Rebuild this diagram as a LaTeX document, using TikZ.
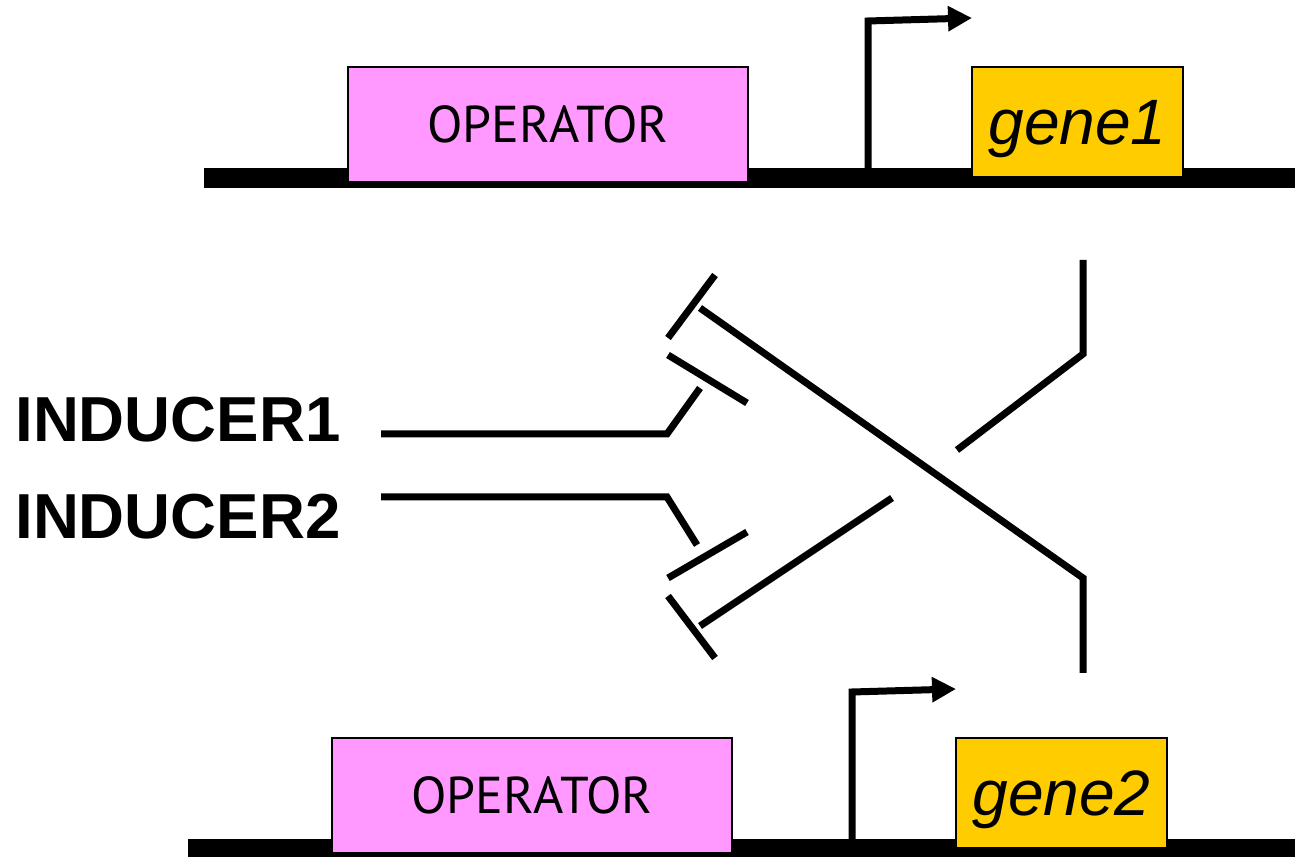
\documentclass[tikz,border=0pt]{standalone}
\usepackage{fontspec}
\setmainfont{Liberation Sans}
\newfontfamily\opfont{PT Sans}
\usetikzlibrary{arrows.meta}
\definecolor{oppink}{HTML}{FF99FF}
\definecolor{geneyellow}{HTML}{FFCC00}

\begin{document}
\begin{tikzpicture}[x=0.02cm,y=-0.02cm,>=latex,
	opbox/.style={
		draw, line width=0.85pt, fill=oppink,
		minimum width=8cm, minimum height=2.3cm,
		font=\opfont\fontsize{29.5}{31}\selectfont,
	},
	genebox/.style={
		draw, line width=0.85pt, fill=geneyellow,
		minimum width=4.22cm, minimum height=2.2cm, text depth=0pt,
		font=\itshape\fontsize{36.5}{38}\selectfont,
	},
	prom/.style={line width=0.14cm, -{Triangle[length=0.48cm,width=0.48cm]}},
	rep/.style={line width=0.14cm},
	ind/.style={anchor=base west, inner sep=0pt, font=\bfseries\fontsize{36.2}{40}\selectfont},
]
	\useasboundingbox (0,0) rectangle (1295,857);

	% the two promoter rows
	\foreach \n/\dx/\dy in {1/0/0, 2/-16/671}{
		\begin{scope}[shift={(\dx,\dy)}]
			\fill (204,168) rectangle (1320,188);
			\node[opbox] (op\n) at (548,124.5) {OPERATOR};
			\node[genebox] (gene\n) at (1077.5,122) {gene\n};
			\coordinate (p\n) at (868,172);
			\coordinate (pt\n) at (868,21);
			\coordinate (pa\n) at (972,18);
			\draw[prom] (p\n) -- (pt\n) -- (pa\n);
		\end{scope}
	}

	\node[ind] (ind1) at (15,442) {INDUCER1};
	\node[ind] (ind2) at (15,539) {INDUCER2};

	% inducer inputs
	\coordinate (i1a) at (381,434);
	\coordinate (i1b) at (667,434);
	\coordinate (i1c) at (700,388);
	\coordinate (i2a) at (381,497);
	\coordinate (i2b) at (667,497);
	\coordinate (i2c) at (697,545);
	\draw[rep] (i1a) -- (i1b) -- (i1c);
	\draw[rep] (i2a) -- (i2b) -- (i2c);
	\draw[rep] (668,355) -- (747,403);
	\draw[rep] (668,578) -- (747,532);

	% cross repression
	\coordinate (r2a) at (1083,673);
	\coordinate (r2b) at (1083,578);
	\coordinate (r2c) at (700,308);
	\draw[rep] (r2a) -- (r2b) -- (r2c);
	\draw[rep] (668,338) -- (715,275);

	\coordinate (r1a) at (1083,260);
	\coordinate (r1b) at (1083,354);
	\coordinate (r1c) at (957,450);
	\coordinate (r1d) at (892,498);
	\coordinate (r1e) at (700,626);
	\draw[rep] (r1a) -- (r1b) -- (r1c);
	\draw[rep] (r1d) -- (r1e);
	\draw[rep] (668,596) -- (715,658);
\end{tikzpicture}
\end{document}
